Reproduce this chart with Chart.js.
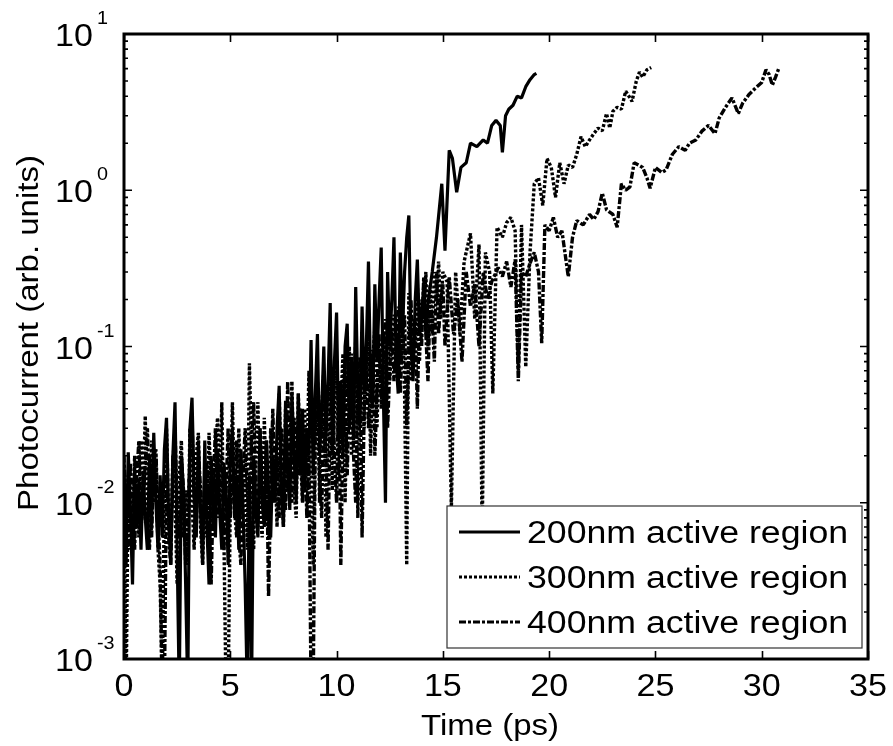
<!DOCTYPE html>
<html>
<head>
<meta charset="utf-8">
<script src="https://cdn.jsdelivr.net/npm/chart.js@4.4.1/dist/chart.umd.min.js"></script>
<style>
  html, body { margin: 0; padding: 0; background: #fff; }
  canvas { display: block; }
</style>
</head>
<body>
<canvas id="myChart" width="893" height="746"></canvas>
<script>
// photocurrent traces, time in ps
var t200 = [
    0,0.1,0.2,0.3,0.4,0.5,0.6,0.7,0.8,0.9,
    1.0,1.1,1.2,1.3,1.4,1.5,1.6,1.7,1.8,1.9,
    2.0,2.1,2.2,2.3,2.4,2.5,2.6,2.7,2.8,2.9,
    3.0,3.1,3.2,3.3,3.4,3.5,3.6,3.7,3.8,3.9,
    4.0,4.1,4.2,4.3,4.4,4.5,4.6,4.7,4.8,4.9,
    5.0,5.1,5.2,5.3,5.4,5.5,5.6,5.7,5.8,5.9,
    6.0,6.1,6.2,6.3,6.4,6.5,6.6,6.7,6.8,6.9,
    7.0,7.1,7.2,7.3,7.4,7.5,7.6,7.7,7.8,7.9,
    8.0,8.1,8.2,8.3,8.4,8.5,8.6,8.7,8.8,8.9,
    9.0,9.1,9.2,9.3,9.4,9.5,9.6,9.7,9.8,9.9,
    10.0,10.1,10.2,10.3,10.4,10.5,10.6,10.7,10.8,10.9,
    11.0,11.1,11.2,11.3,11.4,11.5,11.6,11.7,11.8,11.9,
    12.0,12.1,12.2,12.3,12.4,12.5,12.6,12.7,12.8,12.9,
    13.0,13.1,13.2,13.3,13.4,13.5,13.6,13.7,13.8,13.9,
    14.0,14.1,14.2,14.3,
    14.5,14.7,14.95,15.1,15.3,15.45,15.65,15.85,16.1,16.3,
    16.6,16.9,17.1,17.3,17.5,17.7,17.8,17.95,18.1,18.3,
    18.5,18.7,18.9,19.1,19.3,19.4];
var pc200 = [
    0.018,0.004,0.021,0.009,0.003,0.017,0.007,0.014,0.005,0.016,
    0.008,0.005,0.02,0.007,0.028,0.01,0.005,0.015,0.006,0.022,
    0.035,0.008,0.004,0.02,0.044,0.005,0.0006,0.02,0.012,0.003,
    0.0006,0.03,0.047,0.012,0.006,0.025,0.009,0.004,0.025,0.007,
    0.003,0.02,0.011,0.006,0.022,0.009,0.005,0.018,0.012,0.004,
    0.02,0.03,0.008,0.015,0.005,0.022,0.009,0.003,0.0006,0.015,
    0.0006,0.02,0.009,0.006,0.03,0.01,0.007,0.025,0.012,0.006,
    0.02,0.01,0.03,0.056,0.012,0.007,0.045,0.015,0.009,0.05,
    0.02,0.01,0.05,0.015,0.04,0.012,0.03,0.02,0.11,0.015,
    0.05,0.12,0.02,0.04,0.1,0.025,0.06,0.19,0.02,0.08,
    0.165,0.025,0.06,0.02,0.1,0.14,0.03,0.08,0.025,0.24,
    0.05,0.03,0.18,0.05,0.1,0.35,0.06,0.04,0.25,0.08,
    0.2,0.43,0.05,0.01,0.3,0.1,0.2,0.5,0.08,0.05,
    0.4,0.12,0.3,0.5,0.69,0.1,0.06,0.2,0.36,0.12,
    0.15,0.25,0.12,0.19,
    0.3,0.5,1.1,0.41,1.8,1.6,0.97,1.4,1.5,2.0,
    1.9,2.1,2.0,2.6,2.8,2.6,1.75,3.0,3.3,3.5,
    4.0,3.9,4.6,5.1,5.5,5.6];

var t300 = [
    0,0.1,0.2,0.3,0.4,0.5,0.6,0.7,0.8,0.9,
    1.0,1.1,1.2,1.3,1.4,1.5,1.6,1.7,1.8,1.9,
    2.0,2.1,2.2,2.3,2.4,2.5,2.6,2.7,2.8,2.9,
    3.0,3.1,3.2,3.3,3.4,3.5,3.6,3.7,3.8,3.9,
    4.0,4.1,4.2,4.3,4.4,4.5,4.6,4.7,4.8,4.9,
    5.0,5.1,5.2,5.3,5.4,5.5,5.6,5.7,5.8,5.9,
    6.0,6.1,6.2,6.3,6.4,6.5,6.6,6.7,6.8,6.9,
    7.0,7.1,7.2,7.3,7.4,7.5,7.6,7.7,7.8,7.9,
    8.0,8.1,8.2,8.3,8.4,8.5,8.6,8.7,8.8,8.9,
    9.0,9.1,9.2,9.3,9.4,9.5,9.6,9.7,9.8,9.9,
    10.0,10.1,10.2,10.3,10.4,10.5,10.6,10.7,10.8,10.9,
    11.0,11.1,11.2,11.3,11.4,11.5,11.6,11.7,11.8,11.9,
    12.0,12.1,12.2,12.3,12.4,12.5,12.6,12.7,12.8,12.9,
    13.0,13.1,13.2,13.3,13.4,13.5,13.6,13.7,13.8,13.9,
    14.0,14.1,14.2,14.3,14.4,14.5,14.6,14.7,14.8,14.9,
    15.0,
    15.2,15.4,15.6,15.8,16.0,16.3,16.5,16.7,16.85,17.0,
    17.2,17.35,17.55,17.8,18.0,18.2,18.4,18.55,18.7,18.9,
    19.1,19.3,19.5,19.7,19.9,20.1,20.3,20.5,20.7,20.9,
    21.1,21.3,21.5,21.7,21.9,22.1,22.3,22.5,22.7,22.85,
    23.0,23.2,23.4,23.6,23.75,23.9,24.1,24.25,24.4,24.6,
    24.8];
var pc300 = [
    0.012,0.0006,0.015,0.008,0.005,0.02,0.009,0.006,0.025,0.012,
    0.036,0.008,0.005,0.025,0.01,0.02,0.005,0.003,0.0006,0.012,
    0.03,0.008,0.005,0.02,0.01,0.003,0.015,0.025,0.006,0.012,
    0.004,0.03,0.01,0.005,0.02,0.028,0.007,0.004,0.015,0.006,
    0.028,0.012,0.007,0.02,0.035,0.01,0.044,0.006,0.0006,0.0006,
    0.01,0.044,0.009,0.006,0.03,0.012,0.008,0.02,0.005,0.078,
    0.02,0.005,0.025,0.044,0.009,0.006,0.035,0.012,0.006,0.03,
    0.01,0.02,0.007,0.05,0.015,0.007,0.04,0.012,0.02,0.06,
    0.012,0.008,0.05,0.02,0.01,0.04,0.015,0.07,0.02,0.004,
    0.03,0.06,0.01,0.04,0.07,0.006,0.03,0.08,0.012,0.04,
    0.07,0.015,0.04,0.09,0.01,0.05,0.1,0.02,0.04,0.11,
    0.008,0.05,0.09,0.03,0.06,0.12,0.02,0.08,0.13,0.03,
    0.09,0.05,0.12,0.04,0.15,0.06,0.1,0.16,0.07,0.12,
    0.08,0.2,0.05,0.004,0.22,0.06,0.15,0.1,0.25,0.08,
    0.2,0.15,0.3,0.1,0.25,0.12,0.3,0.2,0.35,0.15,
    0.3,
    0.26,0.009,0.3,0.12,0.35,0.53,0.15,0.45,0.006,0.4,
    0.3,0.05,0.58,0.5,0.62,0.67,0.55,0.07,0.6,0.074,
    0.4,1.1,1.2,0.8,1.6,1.4,0.9,1.5,1.1,1.45,
    1.4,1.7,2.2,1.9,2.1,2.3,2.5,2.4,3.1,2.5,
    3.2,3.4,3.3,4.3,4.0,3.7,5.0,5.7,5.3,5.9,
    6.1];

var t400 = [
    0,0.1,0.2,0.3,0.4,0.5,0.6,0.7,0.8,0.9,
    1.0,1.1,1.2,1.3,1.4,1.5,1.6,1.7,1.8,1.9,
    2.0,2.1,2.2,2.3,2.4,2.5,2.6,2.7,2.8,2.9,
    3.0,3.1,3.2,3.3,3.4,3.5,3.6,3.7,3.8,3.9,
    4.0,4.1,4.2,4.3,4.4,4.5,4.6,4.7,4.8,4.9,
    5.0,5.1,5.2,5.3,5.4,5.5,5.6,5.7,5.8,5.9,
    6.0,6.1,6.2,6.3,6.4,6.5,6.6,6.7,6.8,6.9,
    7.0,7.1,7.2,7.3,7.4,7.5,7.6,7.7,7.8,7.9,
    8.0,8.1,8.2,8.3,8.4,8.5,8.6,8.7,8.8,8.9,
    9.0,9.1,9.2,9.3,9.4,9.5,9.6,9.7,9.8,9.9,
    10.0,10.1,10.2,10.3,10.4,10.5,10.6,10.7,10.8,10.9,
    11.0,11.1,11.2,11.3,11.4,11.5,11.6,11.7,11.8,11.9,
    12.0,12.1,12.2,12.3,12.4,12.5,12.6,12.7,12.8,12.9,
    13.0,13.1,13.2,13.3,13.4,13.5,13.6,13.7,13.8,13.9,
    14.0,14.1,14.2,14.3,14.4,14.5,14.6,14.7,14.8,14.9,
    15.0,
    15.1,15.3,15.5,15.7,15.9,16.1,16.3,16.5,16.7,16.9,
    17.1,17.3,17.6,17.8,18.0,18.2,18.4,18.55,18.7,18.9,
    19.1,19.3,19.5,19.65,19.8,20.0,20.2,20.4,20.6,20.9,
    21.1,21.3,21.6,21.9,22.1,22.3,22.5,22.7,23.0,23.2,
    23.4,23.6,23.8,24.0,24.2,24.4,24.6,24.75,25.0,25.3,
    25.5,25.8,26.1,26.4,26.6,26.9,27.2,27.5,27.8,28.0,
    28.3,28.6,28.9,29.1,29.4,29.7,30.0,30.2,30.35,30.5,
    30.65,30.8];
var pc400 = [
    0.02,0.008,0.005,0.018,0.01,0.005,0.015,0.025,0.007,0.01,
    0.018,0.03,0.012,0.006,0.02,0.022,0.008,0.004,0.0006,0.0006,
    0.015,0.006,0.004,0.018,0.03,0.009,0.006,0.02,0.012,0.004,
    0.008,0.02,0.035,0.01,0.007,0.022,0.012,0.005,0.014,0.018,
    0.009,0.003,0.012,0.03,0.008,0.015,0.02,0.005,0.012,0.03,
    0.008,0.015,0.01,0.025,0.006,0.004,0.015,0.03,0.012,0.008,
    0.025,0.044,0.01,0.007,0.03,0.012,0.008,0.025,0.0025,0.012,
    0.04,0.012,0.02,0.008,0.03,0.015,0.009,0.06,0.015,0.01,
    0.035,0.02,0.015,0.04,0.01,0.03,0.008,0.02,0.0006,0.0006,
    0.03,0.06,0.015,0.008,0.05,0.02,0.005,0.04,0.07,0.02,
    0.01,0.06,0.004,0.03,0.08,0.015,0.05,0.09,0.02,0.01,
    0.07,0.085,0.006,0.04,0.1,0.03,0.06,0.095,0.02,0.05,
    0.12,0.04,0.08,0.15,0.03,0.07,0.13,0.06,0.1,0.18,
    0.05,0.12,0.16,0.03,0.1,0.2,0.08,0.15,0.04,0.18,
    0.1,0.28,0.12,0.06,0.2,0.15,0.08,0.3,0.12,0.2,
    0.25,
    0.1,0.28,0.12,0.2,0.08,0.3,0.18,0.25,0.1,0.3,
    0.2,0.26,0.32,0.28,0.35,0.24,0.36,0.06,0.3,0.28,
    0.34,0.4,0.3,0.105,0.6,0.55,0.67,0.5,0.55,0.28,
    0.5,0.64,0.6,0.7,0.65,0.73,0.96,0.75,0.7,0.58,
    1.1,1.0,1.05,1.5,1.45,1.4,1.2,1.03,1.4,1.3,
    1.35,1.7,1.9,1.8,2.0,2.1,2.4,2.6,2.3,2.9,
    3.4,3.9,3.1,3.6,4.1,4.5,4.9,5.9,5.5,4.7,
    5.3,6.0];

var labels = ['200nm active region', '300nm active region', '400nm active region'];
var xTicks = [0, 5, 10, 15, 20, 25, 30, 35];
var yDecades = [-3, -2, -1, 0, 1];

var FONT = '"Liberation Sans", Arial, sans-serif';

function pts(t, v) {
    return t.map(function (x, i) { return { x: x, y: v[i] }; });
}

function text(ctx, s, x, y, size, align, sx) {
    ctx.save();
    ctx.translate(x, y);
    ctx.scale(sx, 1);
    ctx.font = size + 'px ' + FONT;
    ctx.textAlign = align;
    ctx.textBaseline = 'alphabetic';
    ctx.fillStyle = '#000';
    ctx.fillText(s, 0, 0);
    ctx.restore();
}

// box, inward ticks, tick labels, titles and legend
var frame = {
    id: 'frame',
    afterDatasetsDraw: function (chart) {
        var ctx = chart.ctx;
        var a = chart.chartArea;
        var xs = chart.scales.x, ys = chart.scales.y;

        ctx.save();
        ctx.strokeStyle = '#000';
        ctx.lineWidth = 1.6;
        ctx.beginPath();
        xTicks.forEach(function (v) {
            var px = Math.round(xs.getPixelForValue(v)) + 0.5;
            ctx.moveTo(px, a.bottom); ctx.lineTo(px, a.bottom - 8);
            ctx.moveTo(px, a.top); ctx.lineTo(px, a.top + 8);
        });
        yDecades.forEach(function (d) {
            for (var k = 1; k <= 9; k++) {
                if (d === 1 && k > 1) break;
                var py = ys.getPixelForValue(k * Math.pow(10, d));
                var len = k === 1 ? 8 : 4;
                ctx.moveTo(a.left, py); ctx.lineTo(a.left + len, py);
                ctx.moveTo(a.right, py); ctx.lineTo(a.right - len, py);
            }
        });
        ctx.stroke();

        ctx.lineWidth = 3;
        ctx.strokeRect(a.left, a.top, a.right - a.left, a.bottom - a.top);

        xTicks.forEach(function (v) {
            text(ctx, String(v), xs.getPixelForValue(v), 696, 31, 'center', 1.1);
        });
        yDecades.forEach(function (d) {
            var py = ys.getPixelForValue(Math.pow(10, d));
            text(ctx, '10', 93, py + 12, 31, 'right', 1.1);
            text(ctx, String(d), 97, py - 10, 18, 'left', 1.1);
        });

        text(ctx, 'Time (ps)', (a.left + a.right) / 2 - 6, 735, 30, 'center', 1.1);
        ctx.save();
        ctx.translate(38, 333);
        ctx.rotate(-Math.PI / 2);
        text(ctx, 'Photocurrent (arb. units)', 0, 0, 30, 'center', 1.1);
        ctx.restore();

        // legend
        var lx = 447, ly = 506, lw = 415, lh = 142;
        ctx.fillStyle = '#fff';
        ctx.fillRect(lx, ly, lw, lh);
        ctx.strokeStyle = '#333';
        ctx.lineWidth = 1.2;
        ctx.strokeRect(lx, ly, lw, lh);
        var rows = [532, 577, 622];
        chart.data.datasets.forEach(function (ds, i) {
            ctx.save();
            ctx.strokeStyle = '#000';
            ctx.lineWidth = 3;
            ctx.setLineDash(ds.borderDash || []);
            ctx.beginPath();
            ctx.moveTo(459, rows[i]);
            ctx.lineTo(520, rows[i]);
            ctx.stroke();
            ctx.restore();
            text(ctx, ds.label, 527, rows[i] + 11, 31, 'left', 1.15);
        });
        ctx.restore();
    }
};

new Chart(document.getElementById('myChart'), {
    type: 'line',
    data: {
        datasets: [{
            label: labels[0],
            data: pts(t200, pc200),
            borderColor: '#000',
            borderWidth: 3.2,
            borderJoinStyle: 'bevel'
        }, {
            label: labels[1],
            data: pts(t300, pc300),
            borderColor: '#000',
            borderWidth: 3.4,
            borderDash: [3, 2],
            borderJoinStyle: 'bevel'
        }, {
            label: labels[2],
            data: pts(t400, pc400),
            borderColor: '#000',
            borderWidth: 3.4,
            borderDash: [7, 2, 3, 2],
            borderJoinStyle: 'bevel'
        }]
    },
    options: {
        responsive: false,
        animation: false,
        devicePixelRatio: 1,
        layout: { padding: { left: 124, right: 25, top: 34, bottom: 87 } },
        elements: { point: { radius: 0 }, line: { tension: 0 } },
        datasets: { line: { clip: 0 } },
        plugins: { legend: { display: false }, tooltip: { enabled: false } },
        scales: {
            x: { type: 'linear', min: 0, max: 35, display: false },
            y: { type: 'logarithmic', min: 0.001, max: 10, display: false }
        }
    },
    plugins: [frame]
});
</script>
</body>
</html>
